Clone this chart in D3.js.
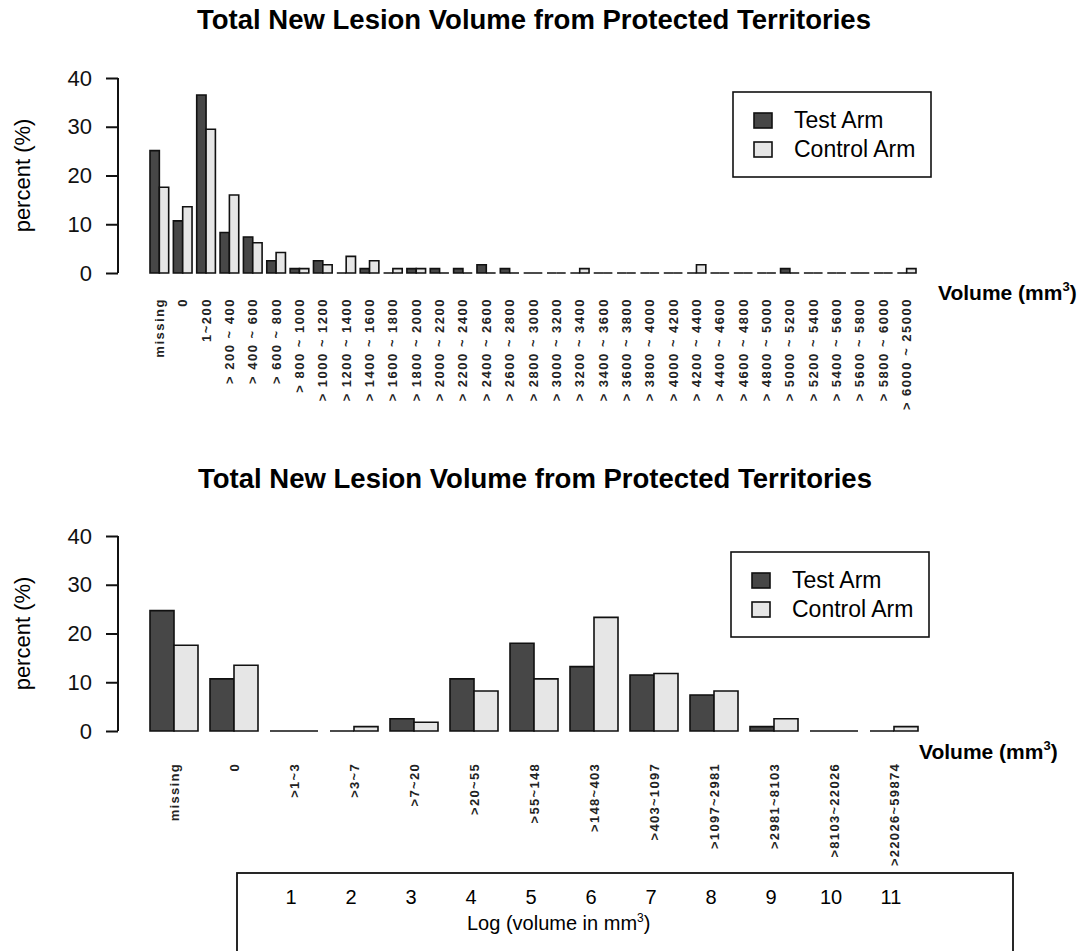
<!DOCTYPE html>
<html>
<head>
<meta charset="utf-8">
<script src="https://cdn.jsdelivr.net/npm/d3@7"></script>
<style>
  html, body { margin: 0; padding: 0; background: #fff; }
  svg { display: block; font-family: "Liberation Sans", Arial, sans-serif; }
</style>
</head>
<body>
<svg id="chart" width="1084" height="951"></svg>
<script>
// ---------- data ----------
const chartTitle = "Total New Lesion Volume from Protected Territories";
const seriesNames = ["Test Arm", "Control Arm"];
const yTicks = [0, 10, 20, 30, 40];

const topCategories = ["missing", "0", "1~200", "> 200 ~ 400", "> 400 ~ 600", "> 600 ~ 800",
  "> 800 ~ 1000", "> 1000 ~ 1200", "> 1200 ~ 1400", "> 1400 ~ 1600", "> 1600 ~ 1800",
  "> 1800 ~ 2000", "> 2000 ~ 2200", "> 2200 ~ 2400", "> 2400 ~ 2600", "> 2600 ~ 2800",
  "> 2800 ~ 3000", "> 3000 ~ 3200", "> 3200 ~ 3400", "> 3400 ~ 3600", "> 3600 ~ 3800",
  "> 3800 ~ 4000", "> 4000 ~ 4200", "> 4200 ~ 4400", "> 4400 ~ 4600", "> 4600 ~ 4800",
  "> 4800 ~ 5000", "> 5000 ~ 5200", "> 5200 ~ 5400", "> 5400 ~ 5600", "> 5600 ~ 5800",
  "> 5800 ~ 6000", "> 6000 ~ 25000"];
const topTest = [25.1, 10.7, 36.5, 8.3, 7.4, 2.5, 0.9, 2.5, 0, 0.9, 0, 0.9, 0.9, 0.9, 1.7, 0.9,
  0, 0, 0, 0, 0, 0, 0, 0, 0, 0, 0, 0.9, 0, 0, 0, 0, 0];
const topControl = [17.6, 13.6, 29.5, 16.0, 6.2, 4.2, 0.9, 1.7, 3.4, 2.5, 0.9, 0.9, 0, 0, 0, 0,
  0, 0, 0.9, 0, 0, 0, 0, 1.7, 0, 0, 0, 0, 0, 0, 0, 0, 0.9];

const bottomCategories = ["missing", "0", ">1~3", ">3~7", ">7~20", ">20~55", ">55~148",
  ">148~403", ">403~1097", ">1097~2981", ">2981~8103", ">8103~22026", ">22026~59874"];
const bottomTest = [24.7, 10.7, 0, 0, 2.5, 10.7, 18.0, 13.2, 11.5, 7.4, 0.9, 0, 0];
const bottomControl = [17.6, 13.5, 0, 0.9, 1.8, 8.2, 10.7, 23.3, 11.8, 8.2, 2.5, 0, 0.9];
const logLabels = ["", "", "1", "2", "3", "4", "5", "6", "7", "8", "9", "10", "11"];
const logCaption = "Log (volume in mm";

// ---------- drawing ----------
const svg = d3.select("#chart");
const colors = ["#474747", "#e6e6e6"];

function drawPanel(cfg) {
  const g = svg.append("g");
  const x = d3.scaleBand().domain(cfg.categories).range([cfg.x0, cfg.x1])
    .paddingInner(0.2).paddingOuter(0);
  const xs = d3.scaleBand().domain([0, 1]).range([0, x.bandwidth()]);
  const y = d3.scaleLinear().domain([0, 40]).range([cfg.yBase, cfg.yTop]);

  // title
  g.append("text").attr("x", (cfg.x0 + cfg.x1) / 2 + 1).attr("y", cfg.titleY)
    .attr("text-anchor", "middle").attr("font-weight", "bold").attr("font-size", 27.5)
    .text(chartTitle);

  // y axis
  const ax = g.append("g").attr("transform", `translate(${cfg.axisX},0)`)
    .call(d3.axisLeft(y).tickValues(yTicks).tickSize(12).tickPadding(14).tickFormat(d3.format("d")));
  ax.select(".domain").attr("stroke", "#111").attr("stroke-width", 2)
    .attr("d", `M0,${y(0)}V${y(40)}`);
  ax.selectAll(".tick line").attr("stroke", "#111").attr("stroke-width", 2);
  ax.selectAll(".tick text").attr("font-size", 22).attr("fill", "#111")
    .attr("font-family", "'Liberation Sans', Arial, sans-serif");

  g.append("text").attr("transform", `translate(30,${(y(0) + y(40)) / 2}) rotate(-90)`)
    .attr("text-anchor", "middle").attr("font-size", 22).text("percent (%)");

  // bars
  const rows = cfg.categories.map((c, i) => ({ c, v: [cfg.test[i], cfg.control[i]] }));
  rows.forEach(r => {
    r.v.forEach((val, s) => {
      const bx = x(r.c) + xs(s), bw = xs.bandwidth();
      const y0 = y(0), y1 = y(val);
      g.append("path")
        .attr("d", `M${bx},${y0}V${y1}H${bx + bw}V${y0}Z`)
        .attr("fill", colors[s]).attr("stroke", "#111").attr("stroke-width", 1.6);
    });
  });

  // category labels
  g.selectAll(".cat").data(cfg.categories).join("text")
    .attr("transform", d => `translate(${x(d) + x.bandwidth() / 2 + 4.5},${cfg.labelY}) rotate(-90)`)
    .attr("text-anchor", "end").attr("font-size", cfg.labelSize)
    .attr("letter-spacing", cfg.labelSpacing)
    .attr("font-weight", "bold").attr("fill", "#222")
    .text(d => d);

  // x axis title
  const vt = g.append("text").attr("x", cfg.volX).attr("y", cfg.volY)
    .attr("font-size", 21).attr("font-weight", "bold");
  vt.append("tspan").text("Volume (mm");
  vt.append("tspan").attr("dy", -9).attr("font-size", 13).text("3");
  vt.append("tspan").attr("dy", 9).text(")");

  // legend
  const lg = g.append("g");
  lg.append("rect").attr("x", cfg.legX).attr("y", cfg.legY).attr("width", 198).attr("height", 85)
    .attr("fill", "#fff").attr("stroke", "#111").attr("stroke-width", 1.6);
  seriesNames.forEach((n, i) => {
    lg.append("rect").attr("x", cfg.legX + 21).attr("y", cfg.legY + 21 + i * 29)
      .attr("width", 18).attr("height", 15).attr("fill", colors[i])
      .attr("stroke", "#111").attr("stroke-width", 1.6);
    lg.append("text").attr("x", cfg.legX + 61).attr("y", cfg.legY + 36 + i * 29)
      .attr("font-size", 23).text(n);
  });
  return x;
}

drawPanel({
  categories: topCategories, test: topTest, control: topControl,
  x0: 150, x1: 916, yBase: 273, yTop: 78, axisX: 118, titleY: 29,
  labelY: 298, labelSize: 13, labelSpacing: 1.5, volX: 938, volY: 300,
  legX: 733, legY: 92
});

const xb = drawPanel({
  categories: bottomCategories, test: bottomTest, control: bottomControl,
  x0: 150, x1: 918, yBase: 731, yTop: 536, axisX: 118, titleY: 488,
  labelY: 763, labelSize: 13, labelSpacing: 1.3, volX: 919, volY: 759,
  legX: 731, legY: 552
});

// bottom log box
const box = svg.append("g");
box.append("rect").attr("x", 237).attr("y", 873).attr("width", 776).attr("height", 90)
  .attr("fill", "none").attr("stroke", "#111").attr("stroke-width", 1.8);
box.selectAll(".lg").data(bottomCategories).join("text")
  .attr("x", d => xb(d) + xb.bandwidth() / 2 - 3).attr("y", 904)
  .attr("text-anchor", "middle").attr("font-size", 20)
  .text((d, i) => logLabels[i]);
const cap = box.append("text").attr("x", 467).attr("y", 930).attr("font-size", 20);
cap.append("tspan").text(logCaption);
cap.append("tspan").attr("dy", -8).attr("font-size", 12).text("3");
cap.append("tspan").attr("dy", 8).text(")");
</script>
</body>
</html>
